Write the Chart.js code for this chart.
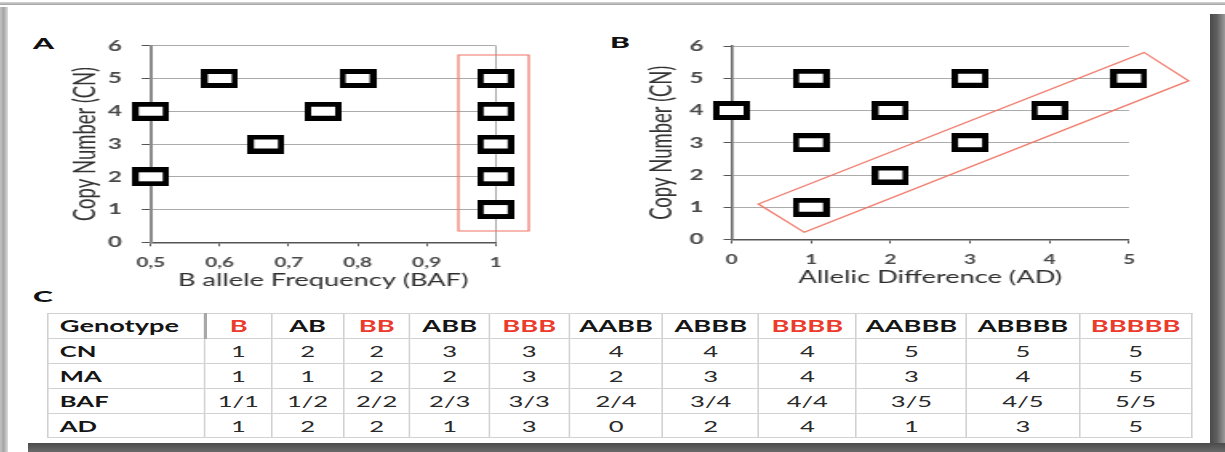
<!DOCTYPE html>
<html>
<head>
<meta charset="utf-8">
<script src="https://cdn.jsdelivr.net/npm/chart.js@4/dist/chart.umd.min.js"></script>
<style>
  html, body { margin: 0; padding: 0; background: #fff; }
  body { width: 1225px; height: 452px; position: relative; overflow: hidden; font-family: Lato, "Open Sans", sans-serif; }
  .edge { position: absolute; }
  #edgeTop { left: 0; top: 2px; width: 1225px; height: 3px; background: linear-gradient(#d6d6d6, #a2a2a2); }
  #edgeLeft { left: 0; top: 7px; width: 8px; height: 445px; background: linear-gradient(to right, #c4c4c4, #a4a4a4 45%, #dcdcdc); }
  #edgeRight { left: 1210px; top: 14px; width: 15px; height: 438px; background: linear-gradient(to right, #4a4a4a, #5e5e5e 45%, #9a9a9a); }
  #edgeBottom { left: 28px; top: 443px; width: 1197px; height: 9px; background: linear-gradient(#4a4a4a, #6a6a6a); }
  .stretch { position: absolute; transform-origin: 0 0; transform: scaleX(1.6); }
  .panel-label { position: absolute; font: 900 15px/15px Lato, sans-serif; color: #111; transform-origin: 0 0; transform: scaleX(2); }
  #tbl { border-collapse: collapse; table-layout: fixed; }
  #tbl td { border: 1px solid #d2d2d2; padding: 0; text-align: center; font: 16px Lato, sans-serif; color: #2a2a2a; white-space: nowrap; overflow: hidden; }
  #tbl td.rowlbl { text-align: left; padding-left: 7px; font-weight: bold; color: #151515; }
  #tbl tr.head td { font-weight: bold; font-size: 17px; color: #151515; }
  #tbl tr.head td.rowlbl { border-right: 2px solid #a8a8a8; }
  #tbl tr.head td.hi { color: #ea3b2c; }
</style>
</head>
<body>
<div class="edge" id="edgeTop"></div>
<div class="edge" id="edgeLeft"></div>
<div class="edge" id="edgeRight"></div>
<div class="edge" id="edgeBottom"></div>

<div class="panel-label" style="left:33px;top:35.5px">A</div>
<div class="panel-label" style="left:610px;top:34.5px">B</div>
<div class="panel-label" style="left:33px;top:288.5px">C</div>

<div class="stretch" style="left:60px;top:20px;width:300px;height:275px">
  <canvas id="chartA" width="300" height="275"></canvas>
</div>
<div class="stretch" style="left:630px;top:20px;width:356px;height:275px">
  <canvas id="chartB" width="356" height="275"></canvas>
</div>
<div class="stretch" style="left:46.6px;top:313px">
  <table id="tbl"></table>
</div>

<script>
// Genotype table: copy number, major allele count, B allele frequency, allelic difference
const GENOTYPES = ['B', 'AB', 'BB', 'ABB', 'BBB', 'AABB', 'ABBB', 'BBBB', 'AABBB', 'ABBBB', 'BBBBB'];
const HOMOZYGOUS = [true, false, true, false, true, false, false, true, false, false, true];
const CN = [1, 2, 2, 3, 3, 4, 4, 4, 5, 5, 5];
const MA = [1, 1, 2, 2, 3, 2, 3, 4, 3, 4, 5];
const BAF_TEXT = ['1/1', '1/2', '2/2', '2/3', '3/3', '2/4', '3/4', '4/4', '3/5', '4/5', '5/5'];
const BAF = [1, 0.5, 1, 0.667, 1, 0.5, 0.75, 1, 0.6, 0.8, 1];
const AD = [1, 2, 2, 1, 3, 0, 2, 4, 1, 3, 5];

// Axis ticks
const CN_TICKS = [0, 1, 2, 3, 4, 5, 6];
const BAF_TICKS = [0.5, 0.6, 0.7, 0.8, 0.9, 1];
const BAF_TICK_LABELS = ['0,5', '0,6', '0,7', '0,8', '0,9', '1'];
const AD_TICKS = [0, 1, 2, 3, 4, 5];

// Highlighted regions (data coordinates)
const BAF_BOX = [[0.946, 5.716], [1.048, 5.716], [1.048, 0.345], [0.946, 0.345]];
const AD_BAND = [[0.336, 1.10], [0.915, 0.223], [5.75, 4.92], [5.19, 5.80]];

// Column widths of the table (local units before horizontal stretch)
const COL_W = [98.1, 42, 44.5, 41.9, 49.4, 50, 58.6, 59.75, 61, 69.2, 70.2, 70.5];
const ROW_H = [24.5, 25, 25, 25, 24];

Chart.defaults.font.family = 'Lato, "Open Sans", sans-serif';
Chart.defaults.color = '#333';

// Hollow rectangular marker used for every point
function makeMarker(w, h, bx, by) {
  const c = document.createElement('canvas');
  c.width = w; c.height = h;
  const g = c.getContext('2d');
  g.fillStyle = '#000';
  g.fillRect(0, 0, w, h);
  g.fillStyle = '#fff';
  g.fillRect(bx, by, w - 2 * bx, h - 2 * by);
  return c;
}
const marker = makeMarker(23, 19, 4, 5);

// Draws a closed red outline through points given in data space
const outlinePlugin = {
  id: 'outline',
  afterDatasetsDraw(chart, args, opts) {
    const pts = opts.points;
    if (!pts) return;
    const { ctx, scales: { x, y } } = chart;
    ctx.save();
    ctx.strokeStyle = opts.color;
    ctx.lineWidth = opts.width;
    ctx.beginPath();
    pts.forEach(([vx, vy], i) => {
      const px = x.getPixelForValue(vx), py = y.getPixelForValue(vy);
      if (i === 0) ctx.moveTo(px, py); else ctx.lineTo(px, py);
    });
    ctx.closePath();
    ctx.stroke();
    ctx.restore();
  }
};

const TICK_FONT_Y = { size: 15, weight: 'bold' };
const TICK_FONT_X = { size: 13, weight: 'bold' };
const TICK_COLOR = '#4a4a4a';

function yScale(o) {
  return {
    type: 'linear', min: 0, max: 6,
    afterBuildTicks: s => { s.ticks = CN_TICKS.map(v => ({ value: v })); },
    afterFit: s => { s.width = o.width; },
    ticks: { font: TICK_FONT_Y, color: TICK_COLOR, padding: o.tickPad, autoSkip: false },
    grid: { color: '#ababab', lineWidth: 1, tickColor: '#555', tickLength: o.tickLen, drawTicks: true },
    border: { color: o.axisColor, width: o.axisWidth },
    title: {
      display: true, text: 'Copy Number (CN)', color: '#333',
      font: { size: 18.5 }, padding: { top: o.titlePad, bottom: 0 }
    }
  };
}

function pointsFrom(xs, ys) {
  return xs.map((v, i) => ({ x: v, y: ys[i] }));
}

const baseDataset = {
  pointStyle: marker, pointRadius: 10, pointHoverRadius: 10,
  clip: false, showLine: false
};

new Chart(document.getElementById('chartA'), {
  type: 'scatter',
  data: { datasets: [Object.assign({ data: pointsFrom(BAF, CN) }, baseDataset)] },
  options: {
    responsive: false, animation: false, devicePixelRatio: 1,
    layout: { padding: { left: 0, top: 25.7, right: 27.7, bottom: 0 } },
    plugins: {
      legend: { display: false }, tooltip: { enabled: false },
      outline: { points: BAF_BOX, color: '#ef7565', width: 1.2 }
    },
    scales: {
      x: {
        type: 'linear', min: 0.5, max: 1,
        afterBuildTicks: s => { s.ticks = BAF_TICKS.map(v => ({ value: v })); },
        afterFit: s => { s.height = 52.7; },
        ticks: {
          font: TICK_FONT_X, color: TICK_COLOR, padding: 9, maxRotation: 0, autoSkip: false,
          callback: (v, i) => BAF_TICK_LABELS[i]
        },
        grid: {
          color: c => (c.tick && c.tick.value === 1) ? '#a8a8a8' : 'rgba(0,0,0,0)',
          tickColor: '#555', tickLength: 4, lineWidth: 1
        },
        border: { color: '#555', width: 1.5 },
        title: {
          display: true, text: 'B allele Frequency (BAF)', color: '#2e2e2e',
          font: { size: 17 }, padding: { top: 4.5, bottom: 4.5 }
        }
      },
      y: yScale({ width: 56.7, tickPad: 12.3, tickLen: 5.6, titlePad: 5.2, axisColor: '#8c8c8c', axisWidth: 2 })
    }
  },
  plugins: [outlinePlugin]
});

new Chart(document.getElementById('chartB'), {
  type: 'scatter',
  data: { datasets: [Object.assign({ data: pointsFrom(AD, CN) }, baseDataset)] },
  options: {
    responsive: false, animation: false, devicePixelRatio: 1,
    layout: { padding: { left: 0, top: 26, right: 44.1, bottom: 0 } },
    plugins: {
      legend: { display: false }, tooltip: { enabled: false },
      outline: { points: AD_BAND, color: '#ef7565', width: 1.2 }
    },
    scales: {
      x: {
        type: 'linear', min: 0, max: 5,
        afterBuildTicks: s => { s.ticks = AD_TICKS.map(v => ({ value: v })); },
        afterFit: s => { s.height = 55.5; },
        ticks: { font: TICK_FONT_X, color: TICK_COLOR, padding: 9, maxRotation: 0, autoSkip: false },
        grid: { color: 'rgba(0,0,0,0)', tickColor: '#555', tickLength: 4, lineWidth: 1 },
        border: { color: '#555', width: 1.5 },
        title: {
          display: true, text: 'Allelic Difference (AD)', color: '#2e2e2e',
          font: { size: 17 }, padding: { top: 7.5, bottom: 7.5 }
        }
      },
      y: yScale({ width: 63.5, tickPad: 12.5, tickLen: 5, titlePad: 9.2, axisColor: '#6a6a6a', axisWidth: 1.6 })
    }
  },
  plugins: [outlinePlugin]
});

// Genotype table
(function buildTable() {
  const tbl = document.getElementById('tbl');
  const total = COL_W.reduce((a, b) => a + b, 0);
  tbl.style.width = total + 'px';
  const cg = document.createElement('colgroup');
  COL_W.forEach(w => { const c = document.createElement('col'); c.style.width = w + 'px'; cg.appendChild(c); });
  tbl.appendChild(cg);
  const rows = [['Genotype', GENOTYPES], ['CN', CN], ['MA', MA], ['BAF', BAF_TEXT], ['AD', AD]];
  rows.forEach(([name, vals], r) => {
    const tr = document.createElement('tr');
    if (r === 0) tr.className = 'head';
    tr.style.height = ROW_H[r] + 'px';
    const th = document.createElement('td');
    th.className = 'rowlbl';
    th.textContent = name;
    tr.appendChild(th);
    vals.forEach((v, i) => {
      const td = document.createElement('td');
      td.textContent = v;
      if (r === 0 && HOMOZYGOUS[i]) td.className = 'hi';
      tr.appendChild(td);
    });
    tbl.appendChild(tr);
  });
})();
</script>
</body>
</html>
